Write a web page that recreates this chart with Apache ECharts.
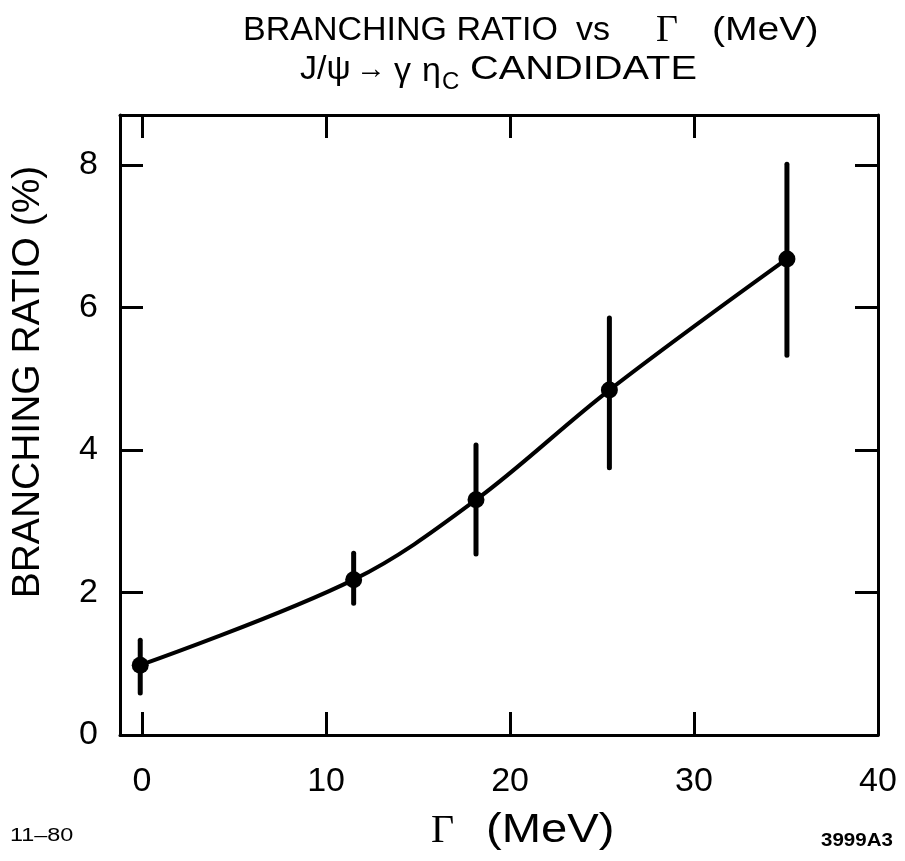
<!DOCTYPE html>
<html>
<head>
<meta charset="utf-8">
<script src="https://cdn.jsdelivr.net/npm/echarts@6/dist/echarts.min.js"></script>
<style>html,body{margin:0;padding:0;background:#fff}#c{width:905px;height:861px}</style>
</head>
<body>
<div id="c"></div>
<script>
// Data
const gammaMeV = [-0.1, 11.5, 18.15, 25.4, 35.05];
const branchingRatio = [0.98, 2.18, 3.30, 4.84, 6.68];
const errLow = [0.59, 1.85, 2.54, 3.75, 5.33];
const errHigh = [1.33, 2.55, 4.07, 5.85, 8.01];
const xTickLabels = [0, 10, 20, 30, 40];
const xTickMarks = [0, 10, 20, 30];
const yTickLabels = [0, 2, 4, 6, 8];
const yTickMarks = [2, 4, 6, 8];

const points = gammaMeV.map((g, i) => [g, branchingRatio[i]]);
const bars = gammaMeV.map((g, i) => [g, errLow[i], errHigh[i]]);

const FONT = 'Liberation Sans';
const SERIF = 'Liberation Serif';
const axisLine = { show: true, onZero: false, lineStyle: { color: '#000', width: 3 } };
const tickStyle = (vals) => ({ show: true, inside: true, length: 23, customValues: vals, lineStyle: { color: '#000', width: 3 } });
const txt = (x, y, text, size, extra) => Object.assign({ type: 'text', x: x, y: y, style: Object.assign({
  text: text, fontSize: size, fontFamily: FONT, fill: '#000', verticalAlign: 'middle' }, (extra && extra.style) || {}) },
  extra && extra.el || {});

const chart = echarts.init(document.getElementById('c'), null, { renderer: 'canvas' });
chart.setOption({
  animation: false,
  backgroundColor: '#fff',
  grid: { left: 120, right: 27, top: 115, bottom: 126 },
  xAxis: [
    { type: 'value', min: -1.2, max: 40, position: 'bottom', axisLine, axisTick: tickStyle(xTickMarks),
      axisLabel: { customValues: xTickLabels, fontSize: 34, color: '#000', fontFamily: FONT, margin: 30 },
      splitLine: { show: false } },
    { type: 'value', min: -1.2, max: 40, position: 'top', axisLine, axisTick: tickStyle(xTickMarks),
      axisLabel: { show: false }, splitLine: { show: false } }
  ],
  yAxis: [
    { type: 'value', min: 0, max: 8.7, position: 'left', axisLine, axisTick: tickStyle(yTickMarks),
      axisLabel: { customValues: yTickLabels, fontSize: 34, color: '#000', fontFamily: FONT, margin: 22 },
      splitLine: { show: false } },
    { type: 'value', min: 0, max: 8.7, position: 'right', axisLine, axisTick: tickStyle(yTickMarks),
      axisLabel: { show: false }, splitLine: { show: false } }
  ],
  series: [
    { type: 'line', data: points, smooth: 0.35, symbol: 'none', lineStyle: { color: '#000', width: 4 }, z: 2 },
    { type: 'custom', data: bars, z: 3,
      renderItem: function (params, api) {
        const p1 = api.coord([api.value(0), api.value(1)]);
        const p2 = api.coord([api.value(0), api.value(2)]);
        return { type: 'line', shape: { x1: p1[0], y1: p1[1], x2: p2[0], y2: p2[1] },
          style: { stroke: '#000', lineWidth: 5, lineCap: 'round' } };
      } },
    { type: 'scatter', data: points, symbol: 'circle', symbolSize: 17, itemStyle: { color: '#000', opacity: 1 }, z: 4 }
  ],
  graphic: [
    // title line 1
    txt(243, 31, 'BRANCHING RATIO', 34),
    txt(576, 31, 'vs', 34),
    txt(656, 31, 'Γ', 38, { style: { fontFamily: SERIF } }),
    txt(712, 31, '(MeV)', 34, { el: { scaleX: 1.15 } }),
    // title line 2
    txt(300, 70, 'J/ψ', 34),
    txt(356, 70, '→', 30),
    txt(394, 72, 'γ', 34),
    txt(422, 72, 'η', 34),
    txt(442, 82, 'C', 24),
    txt(470, 70, 'CANDIDATE', 34, { el: { scaleX: 1.17 } }),
    // y axis name
    { type: 'text', x: 28, y: 382, rotation: Math.PI / 2, style: {
        text: 'BRANCHING RATIO (%)', fontSize: 39, fontFamily: FONT, fill: '#000', align: 'center', verticalAlign: 'middle' } },
    // x axis name
    txt(431, 831, 'Γ', 40, { style: { fontFamily: SERIF } }),
    txt(486, 831, '(MeV)', 40, { el: { scaleX: 1.18 } }),
    // footnotes
    txt(10, 836, '11–80', 18, { el: { scaleX: 1.3 } }),
    txt(821, 841, '3999A3', 18, { style: { fontWeight: 'bold' }, el: { scaleX: 1.14 } })
  ]
});
</script>
</body>
</html>
